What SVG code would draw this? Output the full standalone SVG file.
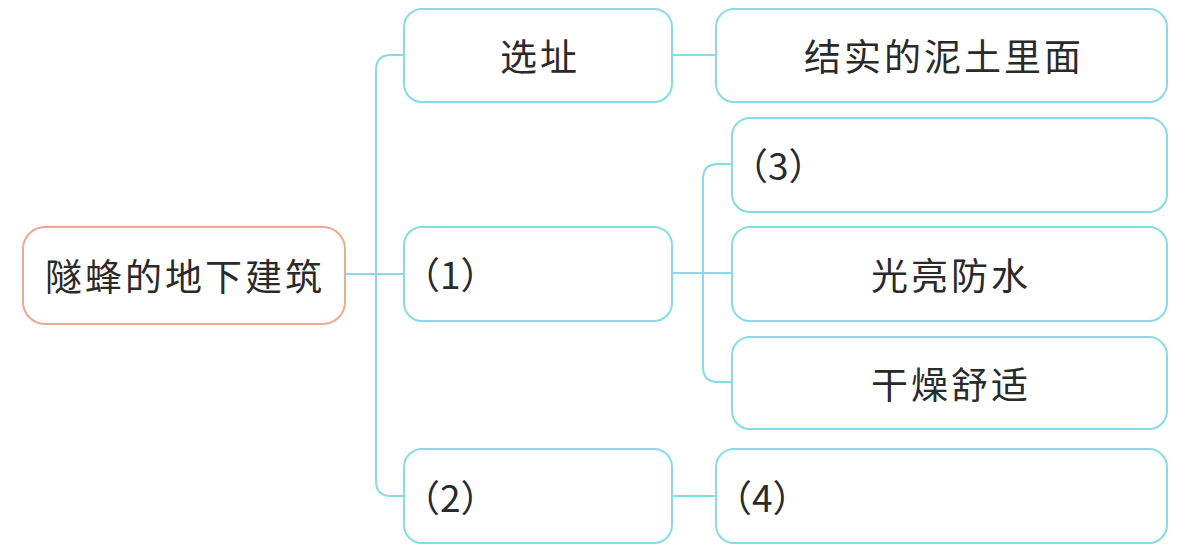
<svg xmlns="http://www.w3.org/2000/svg" width="1185" height="553" viewBox="0 0 1185 553">
<style>
.box{fill:#fff;stroke:#86dbe6;stroke-width:2}
.root{fill:#fff;stroke:#eea98e;stroke-width:2}
.t{font-family:"Noto Sans CJK SC","Liberation Sans",sans-serif;font-size:37px;fill:#2a2a2a;dominant-baseline:central}
.m{text-anchor:middle;letter-spacing:3px}
.c{fill:none;stroke:#86dbe6;stroke-width:2}
</style>
<rect width="1185" height="553" fill="#fff"/>
<g id="connectors">
<path class="c" d="M345,274 H404"/>
<path class="c" d="M404,55 H391 Q376,55 376,70 V481 Q376,496 391,496 H404"/>
<path class="c" d="M672,55 H716"/>
<path class="c" d="M672,273 H732"/>
<path class="c" d="M732,164 H718 Q703,164 703,179 V367 Q703,382 718,382 H732"/>
<path class="c" d="M672,496 H716"/>
</g>
<g id="root"><rect class="root" x="23" y="227" width="322" height="97" rx="22"/><text class="t m" x="185" y="275">隧蜂的地下建筑</text></g>
<g id="n_site"><rect class="box" x="404" y="9" width="268" height="93" rx="18"/><text class="t m" x="540" y="55">选址</text></g>
<g id="n_soil"><rect class="box" x="716" y="9" width="451" height="93" rx="18"/><text class="t m" x="944" y="55">结实的泥土里面</text></g>
<g id="n1"><rect class="box" x="404" y="227" width="268" height="94" rx="18"/><text class="t" x="403" y="273">（1）</text></g>
<g id="n3"><rect class="box" x="732" y="118" width="435" height="94" rx="18"/><text class="t" x="731" y="164">（3）</text></g>
<g id="n_bright"><rect class="box" x="732" y="227" width="435" height="94" rx="18"/><text class="t m" x="951" y="274">光亮防水</text></g>
<g id="n_dry"><rect class="box" x="732" y="337" width="435" height="92" rx="18"/><text class="t m" x="951" y="383">干燥舒适</text></g>
<g id="n2"><rect class="box" x="404" y="449" width="268" height="94" rx="18"/><text class="t" x="403" y="496">（2）</text></g>
<g id="n4"><rect class="box" x="716" y="449" width="451" height="94" rx="18"/><text class="t" x="715" y="496">（4）</text></g>
</svg>
